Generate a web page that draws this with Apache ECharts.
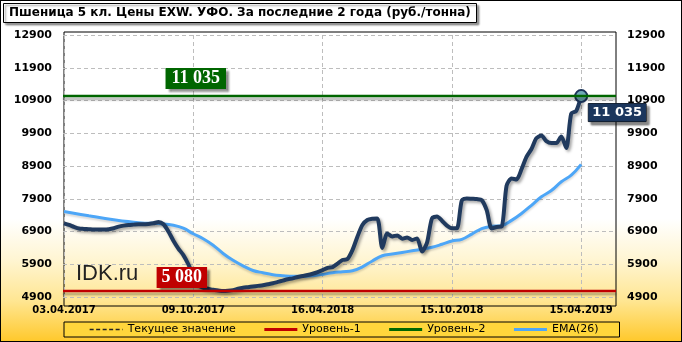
<!DOCTYPE html>
<html><head><meta charset="utf-8">
<script src="https://cdn.jsdelivr.net/npm/echarts@6/dist/echarts.min.js"></script>
<style>
html,body{margin:0;padding:0;}
#wrap{position:relative;width:682px;height:342px;background:linear-gradient(to bottom,#ffffff 0%,#ffffff 64%,#FFF5D2 76%,#FFE692 88%,#FFC82A 100%);}
#c{width:682px;height:342px;}
#frame{position:absolute;left:0;top:0;width:680px;height:340px;border:1px solid #000;pointer-events:none;}
</style></head>
<body><div id="wrap"><div id="c"></div><div id="frame"></div></div>
<script>
// ---- data ----
const chartTitle = 'Пшеница 5 кл. Цены EXW. УФО. За последние 2 года (руб./тонна)';
const xTickIdx = [0, 26, 52, 78, 104];
const xTickLabels = ['03.04.2017', '09.10.2017', '16.04.2018', '15.10.2018', '15.04.2019'];
const priceVals = [
  7150,7100,7040,6990,6980,6970,6960,6960,6960,6970,
  7000,7050,7080,7100,7110,7120,7120,7130,7150,7190,
  7120,6900,6620,6380,6180,5900,5550,5260,5180,5150,
  5120,5100,5080,5090,5110,5150,5180,5200,5220,5240,
  5260,5290,5320,5360,5400,5440,5470,5510,5540,5570,
  5610,5660,5720,5790,5810,5920,6030,6060,6330,6740,
  7100,7250,7290,7300,6400,6840,6750,6780,6680,6720,
  6640,6690,6290,6560,7300,7360,7230,7080,7000,7000,
  7850,7910,7900,7890,7860,7550,6990,7040,7050,8300,
  8520,8490,8800,9180,9420,9750,9830,9660,9600,9600,
  9800,9450,10500,10580,11035
];
const emaIdx = [0,5,10,15,20,22,24,26,28,30,32,34,36,38,40,42,44,46,48,50,52,54,56,58,60,62,64,66,68,70,72,74,76,78,80,82,84,86,88,90,92,94,96,98,100,102,104];
const emaVals = [7510,7380,7260,7170,7130,7090,7000,6830,6680,6480,6230,6020,5850,5710,5640,5580,5550,5530,5530,5550,5590,5640,5670,5700,5820,6000,6160,6210,6260,6310,6360,6420,6510,6610,6660,6820,6990,7060,7080,7240,7450,7700,7960,8150,8420,8620,8950];
const level1 = 5080;
const level2 = 11035;
const yMin = 4900, yMax = 12900, yStep = 1000;
const xMin = -0.2, xMax = 111;
const seriesNames = ['Текущее значение', 'Уровень-1', 'Уровень-2', 'EMA(26)'];

// ---- helpers ----
const fmt = v => String(Math.round(v)).replace(/\B(?=(\d{3})+(?!\d))/g, ' ');
const lastIdx = priceVals.length - 1;
const lastVal = priceVals[lastIdx];
const boxShadow = {shadowColor: 'rgba(0,0,0,0.45)', shadowBlur: 2, shadowOffsetX: 3, shadowOffsetY: 3};
const yLabel = {margin: 11, fontFamily: 'DejaVu Sans', fontWeight: 'bold', fontSize: 11, color: '#000', formatter: v => String(v)};
const xLabelFor = v => {
  const k = xTickIdx.findIndex(t => Math.abs(t - v) < 0.5);
  return k >= 0 ? xTickLabels[k] : '';
};

const chart = echarts.init(document.getElementById('c'), null, {renderer: 'canvas'});
chart.setOption({
  animation: false,
  backgroundColor: 'transparent',
  title: {
    text: chartTitle,
    left: 3, top: 3,
    padding: [3, 6, 3, 6],
    backgroundColor: '#fff',
    borderColor: '#000', borderWidth: 1,
    shadowColor: 'rgba(0,0,0,0.4)', shadowBlur: 2, shadowOffsetX: 2, shadowOffsetY: 2,
    textStyle: {fontFamily: 'DejaVu Sans', fontWeight: 'bold', fontSize: 12, color: '#000', lineHeight: 14}
  },
  legend: {
    left: 64, top: 322,
    itemWidth: 33, itemHeight: 10, itemGap: 27,
    padding: [2, 21, 2, 25],
    backgroundColor: '#FFD63C',
    borderColor: '#000', borderWidth: 1,
    itemStyle: {opacity: 0},
    textStyle: {fontFamily: 'DejaVu Sans', fontSize: 11, color: '#000'},
    data: [
      {name: seriesNames[0], lineStyle: {type: [4, 2.5], width: 1.3, color: '#222'}},
      {name: seriesNames[1], lineStyle: {width: 3}},
      {name: seriesNames[2], lineStyle: {width: 3}},
      {name: seriesNames[3], lineStyle: {width: 3}}
    ]
  },
  grid: [
    {left: 63, right: 66, top: 35, bottom: 45, show: false},
    {left: 64, right: 66, top: 32, bottom: 36, show: true, borderColor: '#000', borderWidth: 1, backgroundColor: 'transparent'}
  ],
  xAxis: [
    {
      gridIndex: 0, type: 'value', min: xMin, max: xMax,
      axisLine: {show: false},
      axisTick: {show: false, customValues: xTickIdx},
      axisLabel: {
        margin: 8, fontFamily: 'DejaVu Sans', fontWeight: 'bold', fontSize: 10, color: '#000',
        hideOverlap: false, customValues: xTickIdx,
        formatter: xLabelFor
      },
      splitLine: {show: true, lineStyle: {color: '#BDBDBD', type: [4, 3], width: 1}}
    },
    {gridIndex: 1, type: 'value', show: false, min: 0, max: 1}
  ],
  yAxis: [
    {
      gridIndex: 0, type: 'value', position: 'left', min: yMin, max: yMax, interval: yStep,
      axisLine: {show: false}, axisTick: {show: false},
      axisLabel: yLabel,
      splitLine: {show: true, lineStyle: {color: '#BDBDBD', type: [4, 3], width: 1}}
    },
    {
      gridIndex: 0, type: 'value', position: 'right', min: yMin, max: yMax, interval: yStep,
      axisLine: {show: false}, axisTick: {show: false},
      axisLabel: yLabel,
      splitLine: {show: false}
    },
    {gridIndex: 1, type: 'value', show: false, min: 0, max: 1}
  ],
  series: [
    {
      name: seriesNames[0], type: 'line', xAxisIndex: 0, yAxisIndex: 0, z: 4,
      data: priceVals.map((v, i) => [i, v]),
      symbol: 'none', smooth: 0.25,
      lineStyle: {color: '#203A5E', width: 4, shadowColor: 'rgba(0,0,0,0.35)', shadowBlur: 3, shadowOffsetX: 2, shadowOffsetY: 2},
      itemStyle: {color: '#203A5E'},
      markPoint: {
        symbol: 'circle', symbolSize: 12,
        itemStyle: {color: '#6FA9B6', borderColor: '#1B3358', borderWidth: 2},
        label: {
          show: true, position: 'inside', offset: [36, 16.5],
          formatter: p => fmt(p.value),
          backgroundColor: '#1B365D', color: '#fff', borderColor: '#000', borderWidth: 0.5,
          fontFamily: 'DejaVu Sans', fontWeight: 'bold', fontSize: 13,
          padding: [3, 4, 2, 4], ...boxShadow
        },
        data: [{coord: [lastIdx, lastVal], value: lastVal}]
      }
    },
    {
      name: seriesNames[3], type: 'line', xAxisIndex: 0, yAxisIndex: 0, z: 3,
      data: emaIdx.map((x, i) => [x, emaVals[i]]),
      symbol: 'none', smooth: 0.4,
      lineStyle: {color: '#4DA6F7', width: 3, shadowColor: 'rgba(0,0,0,0.15)', shadowBlur: 2, shadowOffsetY: 2},
      itemStyle: {color: '#4DA6F7'}
    },
    {
      name: seriesNames[1], type: 'line', xAxisIndex: 0, yAxisIndex: 0, z: 5,
      data: [[xMin, level1], [xMax, level1]],
      symbol: 'none',
      lineStyle: {color: '#C00000', width: 2.5, shadowColor: 'rgba(0,0,0,0.3)', shadowBlur: 2, shadowOffsetY: 3},
      itemStyle: {color: '#C00000'},
      markPoint: {
        symbol: 'circle', symbolSize: 1, itemStyle: {color: 'rgba(0,0,0,0)'},
        label: {
          show: true, position: 'inside', offset: [0, -13.5],
          formatter: p => fmt(p.value),
          backgroundColor: '#C00000', color: '#fff',
          fontFamily: 'Liberation Serif', fontWeight: 'bold', fontSize: 18,
          padding: [2, 5, 1, 5], ...boxShadow
        },
        data: [{coord: [23.7, level1], value: level1}]
      }
    },
    {
      name: seriesNames[2], type: 'line', xAxisIndex: 0, yAxisIndex: 0, z: 5,
      data: [[xMin, level2], [xMax, level2]],
      symbol: 'none',
      lineStyle: {color: '#006600', width: 2.5, shadowColor: 'rgba(0,0,0,0.3)', shadowBlur: 2, shadowOffsetY: 3},
      itemStyle: {color: '#006600'},
      markPoint: {
        symbol: 'circle', symbolSize: 1, itemStyle: {color: 'rgba(0,0,0,0)'},
        label: {
          show: true, position: 'inside', offset: [0, -17.5],
          formatter: p => fmt(p.value),
          backgroundColor: '#006600', color: '#fff',
          fontFamily: 'Liberation Serif', fontWeight: 'bold', fontSize: 18,
          padding: [2, 6, 1, 6], ...boxShadow
        },
        data: [{coord: [26.5, level2], value: level2}]
      }
    }
  ],
  graphic: [
    {type: 'text', left: 76, top: 263, z: 10,
     style: {text: 'IDK.ru', fontFamily: 'Liberation Sans', fontSize: 22, fill: '#222'}}
  ]
});
</script>
</body></html>
